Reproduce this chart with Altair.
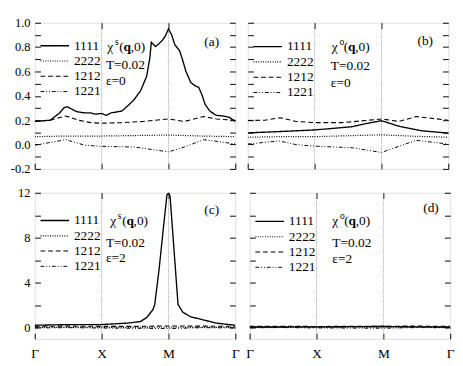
import altair as alt
import pandas as pd

# ---------------- data ----------------
series = ["1111", "2222", "1212", "1221"]
dash_styles = [[1, 0], [1, 1.5], [5, 3], [4, 2, 1, 2, 1, 2]]
line_widths = [1.4, 1.0, 1.0, 1.0]
x_tick_labels = ["Γ", "X", "M", "Γ"]
sym_points = [1, 2]  # X and M

# panel (a): chi^s, eps=0
a_x = {
    "1111": [0.0, 0.233, 0.372, 0.442, 0.488, 0.558, 0.628, 0.744, 0.837, 0.907, 1.0, 1.07, 1.14, 1.302,
             1.395, 1.488, 1.581, 1.674, 1.721, 1.744, 1.805, 1.86, 1.907, 1.953, 2.0, 2.048, 2.095, 2.167,
             2.214, 2.262, 2.333, 2.405, 2.452, 2.5, 2.548, 2.619, 2.714, 2.81, 2.905, 3.0],
    "2222": [0.0, 0.465, 1.0, 2.0, 2.5, 3.0],
    "1212": [0.0, 0.233, 0.465, 0.651, 0.837, 1.0, 1.302, 1.628, 2.0, 2.238, 2.524, 2.714, 3.0],
    "1221": [0.0, 0.465, 0.744, 1.0, 1.488, 2.0, 2.238, 2.524, 2.81, 3.0],
}
a_y = {
    "1111": [0.19, 0.2, 0.26, 0.305, 0.31, 0.29, 0.27, 0.26, 0.26, 0.25, 0.255, 0.24, 0.26, 0.275,
             0.32, 0.37, 0.44, 0.56, 0.71, 0.84, 0.805, 0.83, 0.855, 0.89, 0.95, 0.9, 0.82, 0.77,
             0.69, 0.6, 0.51, 0.48, 0.47, 0.41, 0.33, 0.275, 0.24, 0.235, 0.225, 0.19],
    "2222": [0.065, 0.07, 0.07, 0.078, 0.07, 0.065],
    "1212": [0.19, 0.2, 0.235, 0.2, 0.18, 0.175, 0.18, 0.19, 0.21, 0.19, 0.23, 0.21, 0.2],
    "1221": [-0.005, 0.04, -0.005, -0.015, -0.02, -0.06, -0.02, 0.04, 0.02, 0.005],
}

# panel (b): chi^o, eps=0
b_x = {
    "1111": [0.0, 0.488, 1.0, 1.563, 1.751, 2.0, 2.265, 2.591, 3.0],
    "2222": [0.0, 0.488, 1.0, 2.0, 2.5, 3.0],
    "1212": [0.0, 0.256, 0.488, 0.721, 1.0, 1.423, 2.0, 2.265, 2.521, 3.0],
    "1221": [0.0, 0.465, 0.721, 1.0, 1.563, 2.0, 2.265, 2.521, 3.0],
}
b_y = {
    "1111": [0.096, 0.107, 0.12, 0.147, 0.17, 0.196, 0.15, 0.114, 0.094],
    "2222": [0.06, 0.065, 0.065, 0.08, 0.068, 0.06],
    "1212": [0.198, 0.2, 0.22, 0.19, 0.18, 0.18, 0.21, 0.19, 0.23, 0.2],
    "1221": [0.004, 0.03, 0.0, -0.013, -0.026, -0.065, -0.013, 0.035, 0.004],
}

# panel (c): chi^s, eps=2
c_x = {
    "1111": [0.0, 0.558, 1.0, 1.395, 1.581, 1.674, 1.767, 1.795, 1.86, 1.93, 1.977, 2.0, 2.024, 2.071,
             2.143, 2.214, 2.333, 2.524, 2.714, 2.905, 3.0],
    "2222": [0.0, 1.0, 2.0, 3.0],
    "1212": [0.0, 0.5, 1.0, 1.5, 2.0, 2.5, 3.0],
    "1221": [0.0, 0.5, 1.0, 2.0, 2.5, 3.0],
}
c_y = {
    "1111": [0.22, 0.28, 0.28, 0.41, 0.55, 0.9, 1.6, 2.07, 5.2, 9.2, 11.8, 12.0, 11.7, 7.9,
             2.07, 1.38, 0.97, 0.69, 0.41, 0.28, 0.22],
    "2222": [0.03, 0.03, 0.04, 0.03],
    "1212": [0.12, 0.14, 0.12, 0.12, 0.15, 0.14, 0.12],
    "1221": [-0.02, 0.0, -0.03, -0.08, 0.0, -0.02],
}

# panel (d): chi^o, eps=2
d_x = {
    "1111": [0.0, 1.0, 2.0, 2.5, 3.0],
    "2222": [0.0, 1.0, 2.0, 3.0],
    "1212": [0.0, 0.5, 1.0, 2.0, 2.5, 3.0],
    "1221": [0.0, 0.5, 1.0, 2.0, 2.5, 3.0],
}
d_y = {
    "1111": [0.06, 0.07, 0.11, 0.07, 0.06],
    "2222": [0.03, 0.03, 0.05, 0.03],
    "1212": [0.12, 0.13, 0.11, 0.13, 0.14, 0.12],
    "1221": [-0.01, 0.01, -0.02, -0.05, 0.01, -0.01],
}

# y ticks (every 0.1 / every 2) and their labels (every other tick labelled)
top_yticks = [-0.2, -0.1, 0.0, 0.1, 0.2, 0.3, 0.4, 0.5, 0.6, 0.7, 0.8, 0.9, 1.0]
top_ylabels = ["-0.2", "", "0.0", "", "0.2", "", "0.4", "", "0.6", "", "0.8", "", "1.0"]
bot_yticks = [0, 2, 4, 6, 8, 10, 12]
bot_ylabels = ["0", "", "4", "", "8", "", "12"]

# ---------------- style ----------------
FONT = "Liberation Serif"
W, H = 210, 153
TICK = 6


def js_list(items):
    return "[" + ",".join("'%s'" % t for t in items) + "]"


def js_nums(items):
    return "[" + ",".join(repr(v) for v in items) + "]"


x_label_expr = js_list(x_tick_labels) + "[round(datum.value)]"


def txt(t, x, y, size=14, weight="normal", align="left"):
    return alt.Chart(pd.DataFrame({"t": [t]})).mark_text(
        font=FONT, fontSize=size, fontWeight=weight, align=align, baseline="middle", color="black"
    ).encode(text="t:N", x=alt.value(x), y=alt.value(y))


def make_panel(xs, ys, ydom, yticks, ylabels, show_ylab, show_xlab, sup, eps, tag,
               ann_x, chi_x, ann_ys, tag_dx, tag_y, legend_y):
    rows = []
    for s in series:
        for xv, yv in zip(xs[s], ys[s]):
            rows.append({"s": s, "x": xv, "y": yv})
    df = pd.DataFrame(rows)
    # axes are drawn on a copy of the y scale shifted to start at 0
    dmin = ydom[0]
    df["ys"] = df["y"] - dmin
    sdom = [0, round(ydom[1] - dmin, 6)]
    sticks = [round(t - dmin, 6) for t in yticks]
    ylab_expr = js_list(ylabels) + "[indexof(" + js_nums(sticks) + ", datum.value)]"

    xscale = alt.Scale(domain=[0, 3], nice=False, zero=False)
    yscale = alt.Scale(domain=ydom, nice=False, zero=False)
    sscale = alt.Scale(domain=sdom, nice=False, zero=False)

    tick_kw = dict(offset=-TICK, tickSize=TICK, domain=False, grid=False,
                   title=None, tickColor="black", tickWidth=1)
    bottom_kw = dict(orient="bottom", values=[0, 1, 2, 3], labels=show_xlab, **tick_kw)
    if show_xlab:
        bottom_kw.update(labelExpr=x_label_expr, labelPadding=8, labelFont=FONT, labelFontSize=14,
                         labelColor="black", labelFlush=False, labelOverlap=False)
    left_kw = dict(orient="left", values=sticks, labels=show_ylab, **tick_kw)
    if show_ylab:
        left_kw.update(labelExpr=ylab_expr, labelPadding=5, labelFont=FONT, labelFontSize=13,
                       labelColor="black", labelOverlap=False, labelBound=False, labelFlush=False,
                       minExtent=33)

    vlines = alt.Chart(pd.DataFrame({"x": sym_points})).mark_rule(
        color="#8a8a8a", strokeDash=[1, 1], strokeWidth=0.8
    ).encode(x=alt.X("x:Q", scale=xscale, axis=None))

    lines = alt.Chart(df).mark_line(color="black", clip=True).encode(
        x=alt.X("x:Q", scale=xscale, axis=alt.Axis(**bottom_kw)),
        y=alt.Y("y:Q", scale=yscale, axis=None),
        strokeDash=alt.StrokeDash(
            "s:N", scale=alt.Scale(domain=series, range=dash_styles),
            legend=alt.Legend(title=None, orient="none", legendX=5, legendY=legend_y,
                              symbolType="stroke", symbolSize=900, symbolStrokeWidth=1.1,
                              symbolStrokeColor="black", clipHeight=16, rowPadding=0,
                              labelFont=FONT, labelFontSize=14, labelOffset=4, padding=0,
                              labelColor="black")),
        strokeWidth=alt.StrokeWidth("s:N", scale=alt.Scale(domain=series, range=line_widths),
                                    legend=None),
    )

    left_axis = alt.Chart(df).mark_point(opacity=0).encode(
        y=alt.Y("ys:Q", scale=sscale, axis=alt.Axis(**left_kw)),
    )

    mirror = alt.Chart(df).mark_point(opacity=0).encode(
        x=alt.X("x:Q", scale=xscale,
                axis=alt.Axis(orient="top", values=sym_points, labels=False, **tick_kw)),
        y=alt.Y("ys:Q", scale=sscale,
                axis=alt.Axis(orient="right", values=sticks, labels=False, **tick_kw)),
    )

    y1, y2, y3 = ann_ys
    texts = [
        txt("χ", chi_x, y1),
        txt(sup, chi_x + 8, y1 - 6, size=10),
        txt("(", chi_x + 12.5, y1),
        txt("q", chi_x + 17, y1, weight="bold"),
        txt(",0)", chi_x + 24.5, y1),
        txt("T=0.02", ann_x, y2),
        txt(eps, ann_x, y3),
        txt(tag, W - tag_dx, tag_y, align="right"),
    ]
    return alt.layer(vlines, lines, left_axis, mirror, *texts).resolve_scale(
        y="independent"
    ).resolve_axis(
        x="independent", y="independent"
    ).properties(width=W, height=H)


pa = make_panel(a_x, a_y, [-0.2, 1.0], top_yticks, top_ylabels, True, False,
                "s", "ε=0", "(a)", 74.5, 76, (26, 44, 61), 17, 20, 16)
pb = make_panel(b_x, b_y, [-0.2, 1.0], top_yticks, top_ylabels, False, False,
                "o", "ε=0", "(b)", 87, 88, (26, 45, 63), 16, 19, 17)
pc = make_panel(c_x, c_y, [-1, 12], bot_yticks, bot_ylabels, True, True,
                "s", "ε=2", "(c)", 74.5, 79, (30, 53, 68), 17, 18, 21)
pd_ = make_panel(d_x, d_y, [-1, 12], bot_yticks, bot_ylabels, False, True,
                 "o", "ε=2", "(d)", 86.5, 86.5, (30, 53, 69), 12, 16, 22)


def row(left, right):
    return alt.hconcat(left, right, spacing=5).resolve_scale(
        strokeDash="independent", strokeWidth="independent"
    ).resolve_legend(strokeDash="independent", strokeWidth="independent")


chart = alt.vconcat(row(pa, pb), row(pc, pd_), spacing=10).resolve_scale(
    strokeDash="independent", strokeWidth="independent"
).resolve_legend(
    strokeDash="independent", strokeWidth="independent"
).properties(
    padding={"left": 0, "right": 0, "top": 0, "bottom": 0}
).configure_view(
    stroke="black", strokeWidth=1.2
).configure(font=FONT)

chart.save("out.html", embed_options={"renderer": "svg", "actions": False})
